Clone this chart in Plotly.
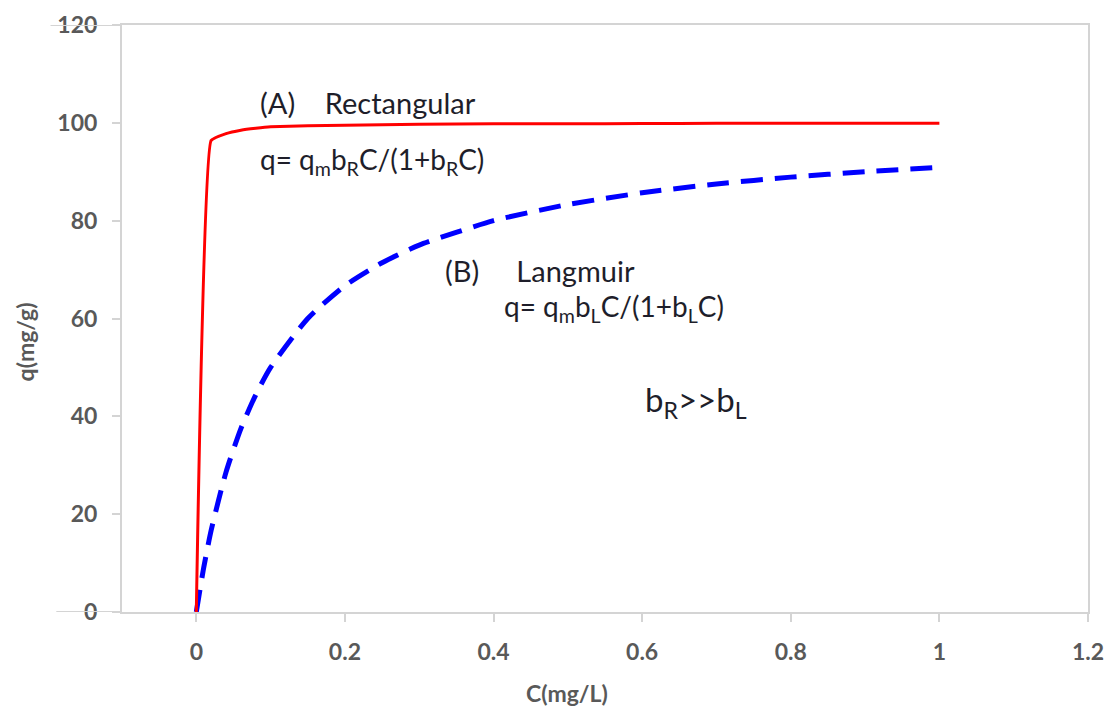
import plotly.graph_objects as go

# Rectangular isotherm (A)
c_rect = [0, 0.02, 0.04, 0.06, 0.08, 0.1, 0.15, 0.2, 0.3, 0.4, 0.5, 0.6, 0.7, 0.8, 0.9, 1.0]
q_rect = [0, 96.4, 97.8, 98.5, 98.9, 99.2, 99.4, 99.5, 99.7, 99.8, 99.8, 99.85, 99.9, 99.9, 99.9, 99.9]

# Langmuir isotherm (B)
c_lang = [0, 0.01, 0.02, 0.04, 0.06, 0.08, 0.1, 0.15, 0.2, 0.25, 0.3, 0.4, 0.5, 0.6, 0.7, 0.8, 0.9, 1.0]
q_lang = [0, 9.1, 16.7, 28.6, 37.5, 44.4, 50.0, 60.0, 66.7, 71.4, 75.0, 80.0, 83.3, 85.7, 87.5, 88.9, 90.0, 90.9]

x_ticks = [0, 0.2, 0.4, 0.6, 0.8, 1, 1.2]
x_ticklabels = ["0", "0.2", "0.4", "0.6", "0.8", "1", "1.2"]
y_ticks = [0, 20, 40, 60, 80, 100, 120]
y_ticklabels = ["0", "20", "40", "60", "80", "100", "120"]

AX = "#d4d4d4"
TICKC = "#595959"
TXT = "#1e1e2a"
FONT = "Lato"
NB = "\u00a0"

fig = go.Figure()
fig.add_trace(go.Scatter(x=c_lang, y=q_lang, mode="lines", line=dict(color="#0000ff", width=5, dash="22px,12px", shape="spline", smoothing=0.6), showlegend=False))
fig.add_trace(go.Scatter(x=c_rect, y=q_rect, mode="lines", line=dict(color="#ff0000", width=3, shape="spline", smoothing=0.3), showlegend=False))

tickfont = dict(family=FONT, size=23, color=TICKC, weight="bold")
fig.update_xaxes(range=[-0.1, 1.2], tickvals=x_ticks, ticktext=x_ticklabels, showgrid=False, zeroline=False,
                 showline=True, linecolor=AX, linewidth=2, mirror=True, ticks="outside", ticklen=8, tickcolor=AX,
                 tickwidth=2, tickfont=tickfont, ticklabelstandoff=10, automargin=False)
fig.update_yaxes(range=[0, 120], tickvals=y_ticks, ticktext=y_ticklabels, showgrid=False, zeroline=False,
                 showline=True, linecolor=AX, linewidth=2, mirror=True, ticks="outside", ticklen=8, tickcolor=AX,
                 tickwidth=2, tickfont=tickfont, ticklabelstandoff=10, automargin=False)

# extended horizontal lines to the left (as in the reference)
fig.add_shape(type="line", xref="paper", yref="y", x0=-0.068, x1=0, y0=0, y1=0, line=dict(color=AX, width=2))
fig.add_shape(type="line", xref="paper", yref="y", x0=-0.074, x1=0, y0=120, y1=120, line=dict(color=AX, width=2))

af = dict(family=FONT, size=29, color=TXT)
fig.add_annotation(x=0.0826, y=104.2, text="(A)" + NB * 4 + "Rectangular", showarrow=False, xanchor="left", yanchor="middle", font=af)
fig.add_annotation(x=0.0826, y=92.3, text="q= q<sub>m</sub>b<sub>R</sub>C/(1+b<sub>R</sub>C)", showarrow=False, xanchor="left", yanchor="middle", font=dict(family=FONT, size=28, color=TXT))
fig.add_annotation(x=0.332, y=69.8, text="(B)" + NB * 5 + "Langmuir", showarrow=False, xanchor="left", yanchor="middle", font=af)
fig.add_annotation(x=0.411, y=62.1, text="q= q<sub>m</sub>b<sub>L</sub>C/(1+b<sub>L</sub>C)", showarrow=False, xanchor="left", yanchor="middle", font=dict(family=FONT, size=28, color=TXT))
fig.add_annotation(x=0.601, y=43.0, text="b<sub>R</sub>>>b<sub>L</sub>", showarrow=False, xanchor="left", yanchor="middle", font=dict(family=FONT, size=33, color=TXT))

# axis titles
fig.add_annotation(xref="paper", yref="paper", x=0.461, y=-0.138, text="C(mg/L)", showarrow=False, xanchor="center", yanchor="middle",
                   font=dict(family=FONT, size=23, color=TICKC, weight="bold"))
fig.add_annotation(xref="paper", yref="paper", x=-0.1, y=0.46, text="q(mg/g)", showarrow=False, xanchor="center", yanchor="middle", textangle=-90,
                   font=dict(family=FONT, size=23, color=TICKC, weight="bold"))

fig.update_layout(width=1105, height=707, margin=dict(l=122, r=17, t=25, b=95, autoexpand=False),
                  plot_bgcolor="white", paper_bgcolor="white")

fig.write_html("out.html", config={"displayModeBar": False}, post_script="document.body.style.margin='0px';")
